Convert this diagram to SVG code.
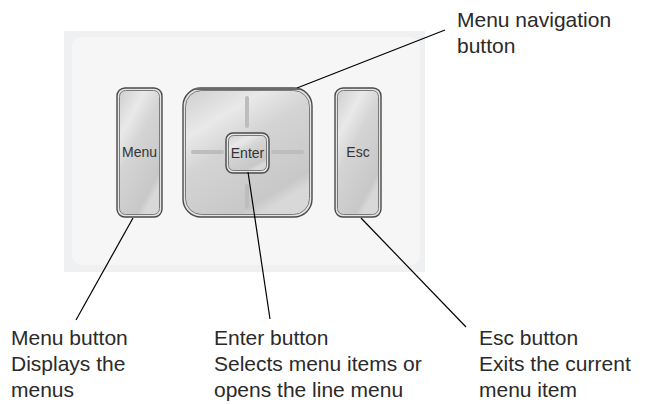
<svg xmlns="http://www.w3.org/2000/svg" width="646" height="404" viewBox="0 0 646 404">
<defs>
<linearGradient id="btn" x1="0" y1="0" x2="0.6" y2="1">
<stop offset="0" stop-color="#cfcfcf"/>
<stop offset="0.28" stop-color="#e9e9e9"/>
<stop offset="0.5" stop-color="#d4d4d4"/>
<stop offset="0.92" stop-color="#c8c8c8"/>
<stop offset="1" stop-color="#d8d8d8"/>
</linearGradient>
<style>
.outer{fill:#e4e4e4;stroke:#4a4a4a;stroke-width:1.4}
.inner{fill:url(#btn);stroke:#7a7a7a;stroke-width:1}
.lbl{font-family:"Liberation Sans",Arial,sans-serif;font-size:14px;fill:#333;text-anchor:middle}
.cap{font-family:"Liberation Sans",Arial,sans-serif;font-size:21px;fill:#2a2a2a}
.lead{stroke:#000;stroke-width:1.2;fill:none}
.cross{stroke:#bdbdbd;stroke-width:4;stroke-linecap:round}
</style>
</defs>
<rect x="0" y="0" width="646" height="404" fill="#fff"/>
<g id="panel">
<rect x="64" y="31" width="361" height="241" fill="#eff0f1"/>
<rect x="72" y="37" width="348" height="228" rx="10" fill="#f6f6f7"/>
</g>
<g id="menu-btn">
<rect class="outer" x="117" y="88" width="45" height="129" rx="8"/>
<rect class="inner" x="119.5" y="90.5" width="40" height="124" rx="6"/>
<text class="lbl" x="139.5" y="157">Menu</text>
</g>
<g id="nav-btn">
<rect class="outer" x="183" y="88" width="129" height="129" rx="18"/>
<rect class="inner" x="185.5" y="90.5" width="124" height="124" rx="16"/>
<line x1="195" y1="89" x2="300" y2="89" stroke="#6a6a6a" stroke-width="2"/>
<line class="cross" x1="247" y1="98" x2="247" y2="126"/>
<line class="cross" x1="247" y1="186" x2="247" y2="207"/>
<line class="cross" x1="193" y1="152" x2="222" y2="152"/>
<line class="cross" x1="273" y1="152" x2="302" y2="152"/>
</g>
<g id="enter-btn">
<rect class="outer" x="226" y="133" width="43" height="40" rx="7"/>
<rect class="inner" x="228.5" y="135.5" width="38" height="35" rx="5"/>
<text class="lbl" x="247.5" y="157.5">Enter</text>
</g>
<g id="esc-btn">
<rect class="outer" x="335" y="88" width="46" height="129" rx="8"/>
<rect class="inner" x="337.5" y="90.5" width="41" height="124" rx="6"/>
<text class="lbl" x="358" y="157">Esc</text>
</g>
<g id="connectors">
<line class="lead" x1="297" y1="88" x2="445" y2="30"/>
<line class="lead" x1="133" y1="218" x2="76" y2="320"/>
<line class="lead" x1="248" y1="172" x2="270" y2="319"/>
<line class="lead" x1="361" y1="218" x2="466" y2="327"/>
</g>
<g id="label-nav">
<text class="cap" x="457" y="27">Menu navigation</text>
<text class="cap" x="457" y="53">button</text>
</g>
<g id="label-menu">
<text class="cap" x="11" y="345">Menu button</text>
<text class="cap" x="11" y="371">Displays the</text>
<text class="cap" x="11" y="397">menus</text>
</g>
<g id="label-enter">
<text class="cap" x="214" y="345">Enter button</text>
<text class="cap" x="214" y="371">Selects menu items or</text>
<text class="cap" x="214" y="397">opens the line menu</text>
</g>
<g id="label-esc">
<text class="cap" x="479" y="345">Esc button</text>
<text class="cap" x="479" y="371">Exits the current</text>
<text class="cap" x="479" y="397">menu item</text>
</g>
</svg>
